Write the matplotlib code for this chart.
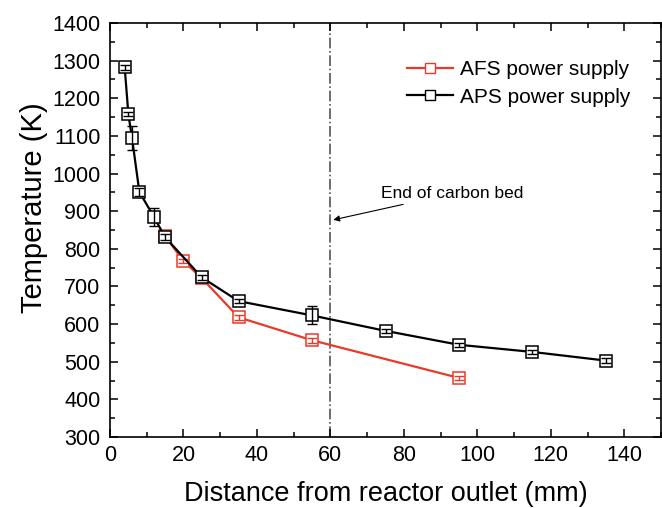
import matplotlib
matplotlib.use('Agg')
import matplotlib.pyplot as plt
from matplotlib.ticker import MultipleLocator

plt.rcParams['font.family'] = ['Liberation Sans', 'DejaVu Sans']

# Data
aps_x = [4, 5, 6, 8, 12, 15, 25, 35, 55, 75, 95, 115, 135]
aps_y = [1282, 1158, 1094, 951, 884, 831, 724, 661, 623, 582, 545, 526, 503]
aps_err = [6, 6, 32, 10, 24, 8, 6, 6, 24, 6, 6, 6, 6]

afs_x = [15, 20, 25, 35, 55, 95]
afs_y = [834, 767, 722, 618, 557, 457]
afs_err = [7, 6, 6, 6, 6, 6]

bed_end = 60
red = '#e8392a'

W, H = 662, 508
fig = plt.figure(figsize=(W / 100, H / 100), dpi=100)
ax = fig.add_axes([110 / W, 1 - 437 / H, 551 / W, 414 / H])

def series(x, y, err, color, label, z):
    ax.plot(x, y, '-', color=color, lw=1.6, zorder=z)
    ax.plot(x, y, 's', ms=8, mfc='white', mec=color, mew=1.1, zorder=z + 0.1)
    ax.errorbar(x, y, yerr=err, fmt='none', ecolor=color, elinewidth=1.0,
                capsize=3.5, capthick=1.0, zorder=z + 0.2)
    # legend proxy
    ax.plot([], [], '-s', color=color, lw=1.6, ms=6.5, mfc='white', mec=color,
            mew=1.0, label=label)

series(afs_x, afs_y, afs_err, red, 'AFS power supply', 3)
series(aps_x, aps_y, aps_err, 'black', 'APS power supply', 4)

ax.axvline(bed_end, color='#555555', lw=1.2, ls='-.', zorder=1)
ax.annotate('End of carbon bed', xy=(60.8, 877), xytext=(73.8, 947),
            fontsize=12.5, va='center', ha='left',
            arrowprops=dict(arrowstyle='-|>', color='black', lw=0.8,
                            shrinkA=2, shrinkB=0, mutation_scale=9))

ax.set_xlim(0, 150)
ax.set_ylim(300, 1400)
ax.xaxis.set_major_locator(MultipleLocator(20))
ax.xaxis.set_minor_locator(MultipleLocator(10))
ax.yaxis.set_major_locator(MultipleLocator(100))
ax.yaxis.set_minor_locator(MultipleLocator(50))
ax.tick_params(which='both', direction='in', top=True, right=True, labelsize=15.5)
ax.tick_params(which='major', length=6, width=1.1)
ax.tick_params(which='minor', length=3.5, width=1.1)
ax.tick_params(axis='y', pad=7)
ax.tick_params(axis='x', pad=6)
for s in ax.spines.values():
    s.set_linewidth(1.2)

ax.set_xlabel('Distance from reactor outlet (mm)', fontsize=19.5, va='top')
ax.xaxis.set_label_coords(0.5, -0.106)
ax.set_ylabel('Temperature (K)', fontsize=21)
ax.yaxis.set_label_coords(-0.113, 0.553)

fig.legend(loc='upper left', bbox_to_anchor=(407 / W, 1 - 60 / H), frameon=False,
           fontsize=15, borderpad=0, borderaxespad=0, handlelength=2.2,
           handletextpad=0.33, labelspacing=0.42)

fig.savefig('out.png', dpi=100)
